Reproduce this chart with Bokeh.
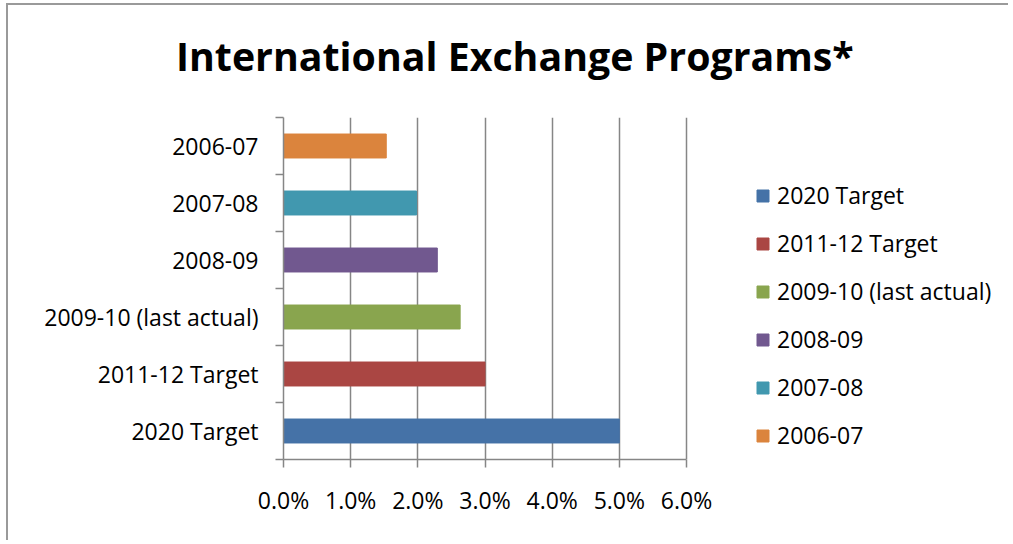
from bokeh.plotting import figure
from bokeh.layouts import column
from bokeh.models import (ColumnDataSource, FixedTicker, NumeralTickFormatter,
                          Legend, LegendItem, Div)
from bokeh.embed import file_html
from bokeh.resources import INLINE

# ---- data (bottom to top, also legend order top to bottom) ----
categories = ["2020 Target", "2011-12 Target", "2009-10 (last actual)",
              "2008-09", "2007-08", "2006-07"]
values = [0.050, 0.030, 0.0263, 0.0229, 0.0198, 0.0153]
colors = ["#4572A7", "#AA4643", "#89A54E", "#71588F", "#4198AF", "#DB843D"]
x_ticks = [0.0, 0.01, 0.02, 0.03, 0.04, 0.05, 0.06]
title_text = "International Exchange Programs*"

FONT = "Open Sans"
GREY = "#868686"

# layout (pixels)
W = 1000
TITLE_H = 100
H = 435
LEFT, RIGHT, TOP, BOTTOM = 275, 0, 12, 81
AXIS_W_PX = 403                    # drawn length of the 0-6% axis
frame_w = W - LEFT - RIGHT
n = len(categories)
x_end = x_ticks[-1] * frame_w / AXIS_W_PX   # frame extends right to hold the legend

pos = [i + 0.5 for i in range(n)]
src = ColumnDataSource(dict(y=pos, v=values, c=colors, cat=categories))

title = Div(text=f'<div style="margin-left:168px; '
                 f'font-family:\'{FONT}\'; font-weight:bold; font-size:39.3px; '
                 f'line-height:normal; color:black; padding-top:24px; '
                 f'white-space:nowrap;">{title_text}</div>',
            width=W, height=TITLE_H, margin=0)

p = figure(width=W, height=H, output_backend="svg", toolbar_location=None,
           title=None,
           x_range=(0, x_end), y_range=(0, n),
           min_border_left=LEFT, min_border_right=RIGHT,
           min_border_top=TOP, min_border_bottom=BOTTOM, margin=0)
p.outline_line_color = None
p.background_fill_color = "white"
p.border_fill_color = "white"

r = p.hbar(y="y", right="v", left=0, height=0.42, color="c", source=src)

# grid
p.xgrid.ticker = FixedTicker(ticks=x_ticks)
p.xgrid.grid_line_color = GREY
p.xgrid.grid_line_width = 1.5
p.ygrid.grid_line_color = None

# x axis
p.xaxis.bounds = (x_ticks[0], x_ticks[-1])
p.xaxis.ticker = FixedTicker(ticks=x_ticks)
p.xaxis.formatter = NumeralTickFormatter(format="0.0%")
p.xaxis.axis_line_color = GREY
p.xaxis.axis_line_width = 1.5
p.xaxis.major_tick_line_color = GREY
p.xaxis.major_tick_line_width = 1.5
p.xaxis.major_tick_out = 8
p.xaxis.major_tick_in = 0
p.xaxis.minor_tick_line_color = None
p.xaxis.major_label_standoff = 16
p.xaxis.major_label_text_font = FONT
p.xaxis.major_label_text_font_size = "23px"
p.xaxis.major_label_text_color = "black"

# y axis
p.yaxis.ticker = FixedTicker(ticks=pos, minor_ticks=list(range(n + 1)))
p.yaxis.major_label_overrides = {pp: c for pp, c in zip(pos, categories)}
p.yaxis.axis_line_color = GREY
p.yaxis.axis_line_width = 1.5
p.yaxis.major_tick_line_color = None
p.yaxis.major_tick_out = 0
p.yaxis.major_tick_in = 0
p.yaxis.minor_tick_line_color = GREY
p.yaxis.minor_tick_line_width = 1.5
p.yaxis.minor_tick_out = 8
p.yaxis.minor_tick_in = 0
p.yaxis.major_label_standoff = 17
p.yaxis.major_label_text_font = FONT
p.yaxis.major_label_text_font_size = "23px"
p.yaxis.major_label_text_color = "black"

# legend
items = [LegendItem(label=c, renderers=[r], index=i) for i, c in enumerate(categories)]
legend = Legend(items=items, location=(472, 8), padding=0, margin=0,
                glyph_width=15, glyph_height=15, label_standoff=7,
                label_height=24, spacing=16,
                label_text_font=FONT, label_text_font_size="23px",
                label_text_color="black",
                border_line_color=None, background_fill_alpha=0)
p.add_layout(legend, "center")

layout = column(title, p, spacing=0)
layout.styles = {"border-left": "2px solid #9a9a9a", "border-top": "2px solid #9a9a9a",
                 "margin-left": "6px", "margin-top": "3px", "background": "white"}

open("out.html", "w").write(file_html(layout, INLINE))
